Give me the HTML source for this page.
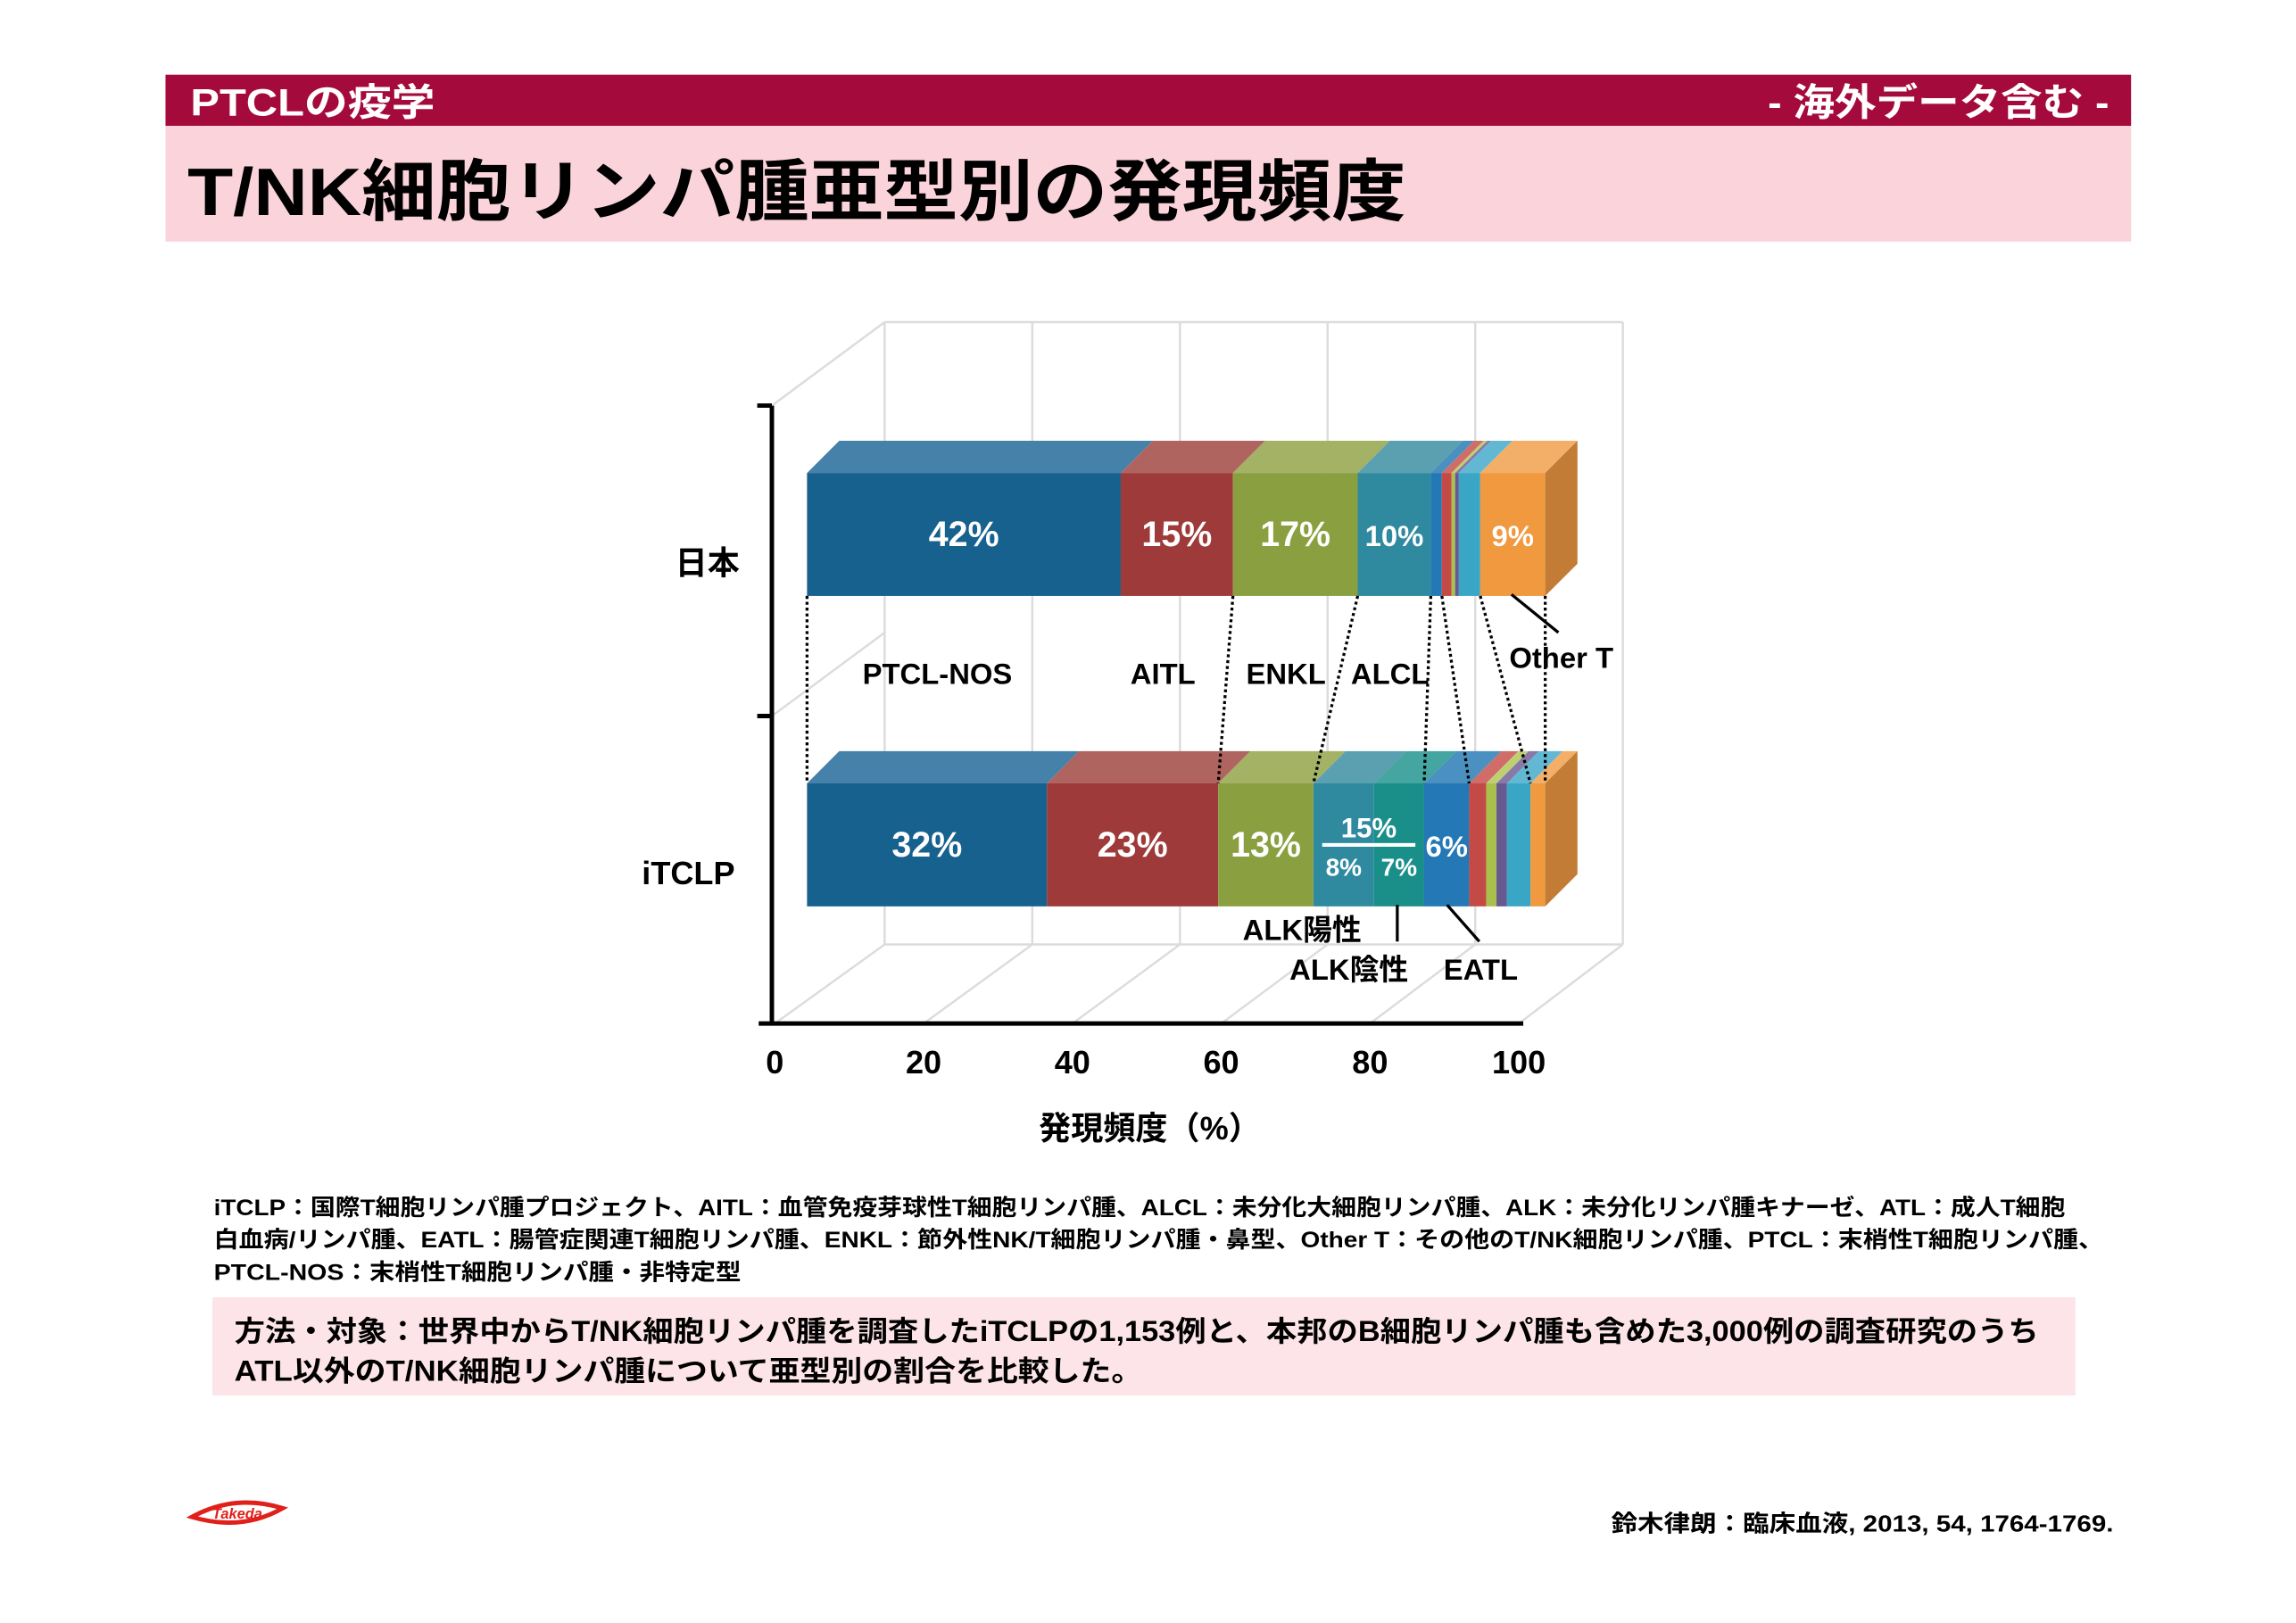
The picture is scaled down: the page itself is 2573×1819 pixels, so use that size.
<!DOCTYPE html>
<html><head><meta charset="utf-8">
<style>
html,body{margin:0;padding:0;background:#fff;}
svg{display:block;}
text{font-family:"Liberation Sans","Noto Sans CJK JP",sans-serif;font-weight:bold;}
</style></head>
<body>
<svg id="s" width="2573" height="1819" viewBox="0 0 1567.6 1108.4" preserveAspectRatio="none" xmlns="http://www.w3.org/2000/svg">
<rect x="0" y="0" width="1570" height="1110" fill="#fff"/>
<rect x="113" y="51" width="1342" height="35" fill="#A50A3C"/>
<rect x="113" y="86" width="1342" height="79" fill="#FAD4DA"/>
<text x="130" y="79" font-size="26" fill="#fff" textLength="167" lengthAdjust="spacingAndGlyphs">PTCLの疫学</text>
<text x="1207" y="79" font-size="26" fill="#fff" textLength="233" lengthAdjust="spacingAndGlyphs">- 海外データ含む -</text>
<text x="128" y="147" font-size="46" fill="#000" textLength="832" lengthAdjust="spacingAndGlyphs">T/NK細胞リンパ腫亜型別の発現頻度</text>

<g id="grid"></g>
<g id="bars"></g>
<g id="conn"></g>
<g id="axes"></g>
<g id="labels"></g>

<text x="785" y="778" font-size="22" text-anchor="middle">発現頻度（%）</text>
<text x="483" y="392" font-size="22" text-anchor="middle">日本</text>
<text x="470" y="604" font-size="22" text-anchor="middle">iTCLP</text>

<text x="640" y="467" font-size="20" text-anchor="middle">PTCL-NOS</text>
<text x="794" y="467" font-size="20" text-anchor="middle">AITL</text>
<text x="878" y="467" font-size="20" text-anchor="middle">ENKL</text>
<text x="949" y="467" font-size="20" text-anchor="middle">ALCL</text>
<text x="1066" y="456" font-size="20" text-anchor="middle">Other T</text>
<line x1="1032" y1="406" x2="1064" y2="432" stroke="#000" stroke-width="2"/>
<text x="889" y="642" font-size="20" text-anchor="middle">ALK陽性</text>
<text x="921" y="669" font-size="20" text-anchor="middle">ALK陰性</text>
<text x="1011" y="669" font-size="20" text-anchor="middle">EATL</text>
<line x1="954" y1="618" x2="954" y2="643" stroke="#000" stroke-width="2"/>
<line x1="988" y1="618" x2="1010" y2="643" stroke="#000" stroke-width="2"/>

<g font-size="15.5">
<text x="146" y="830" textLength="1264" lengthAdjust="spacingAndGlyphs">iTCLP：国際T細胞リンパ腫プロジェクト、AITL：血管免疫芽球性T細胞リンパ腫、ALCL：未分化大細胞リンパ腫、ALK：未分化リンパ腫キナーゼ、ATL：成人T細胞</text>
<text x="146" y="852" textLength="1290" lengthAdjust="spacingAndGlyphs">白血病/リンパ腫、EATL：腸管症関連T細胞リンパ腫、ENKL：節外性NK/T細胞リンパ腫・鼻型、Other T：その他のT/NK細胞リンパ腫、PTCL：末梢性T細胞リンパ腫、</text>
<text x="146" y="874" textLength="360" lengthAdjust="spacingAndGlyphs">PTCL-NOS：末梢性T細胞リンパ腫・非特定型</text>
</g>
<rect x="145" y="886" width="1272" height="67" fill="#FCE4E8"/>
<text x="160" y="916" font-size="19.5" textLength="1232" lengthAdjust="spacingAndGlyphs">方法・対象：世界中からT/NK細胞リンパ腫を調査したiTCLPの1,153例と、本邦のB細胞リンパ腫も含めた3,000例の調査研究のうち</text>
<text x="160" y="943" font-size="19.5" textLength="620" lengthAdjust="spacingAndGlyphs">ATL以外のT/NK細胞リンパ腫について亜型別の割合を比較した。</text>
<text x="1100" y="1046" font-size="16" textLength="343" lengthAdjust="spacingAndGlyphs">鈴木律朗：臨床血液, 2013, 54, 1764-1769.</text>
<g>
<path d="M131 1036 Q160 1020 193 1030 Q165 1046 131 1036 Z" fill="none" stroke="#E0201B" stroke-width="3"/>
<text x="162" y="1037" font-size="10" fill="#E0201B" text-anchor="middle" font-style="italic">Takeda</text>
</g>
</svg>
<script>
const categories = ['日本', 'iTCLP'];
const subtypes = ['PTCL-NOS','AITL','ENKL','ALK+','ALK-','EATL','other1','other2','other3','other4','OtherT'];
const japanValues = [42.5, 15.2, 16.9, 9.9, 0, 1.5, 1.3, 0.5, 0.5, 2.9, 8.8];
const itclpValues = [32.5, 23.2, 12.9, 8.2, 6.8, 6.1, 2.3, 1.4, 1.4, 3.2, 2.0];
const japanLabels = ['42%','15%','17%','10%','','','','','','','9%'];
const itclpLabels = ['32%','23%','13%','8%','7%','6%','','','','',''];
const xTicks = [0, 20, 40, 60, 80, 100];
const groupEnds = [0, 1, 2, 4, 5, 9, 10];

const NS='http://www.w3.org/2000/svg';
const front=['#17618F','#9E3B3A','#8AA040','#2F8AA0','#1A8F8A','#2478B5','#C44B45','#A9C04C','#665A90','#3AA6C6','#F0993F'];
const top_=['#4581A8','#B06460','#A3B265','#5AA0B0','#45A5A0','#4A90C0','#D06D68','#BFCF74','#8779A8','#62B8D3','#F3AE68'];
const D=22;
function bx(v){return 551+v*5.04;}
function ax(v){return 529+v*5.08;}
function mk(tag,attrs,parent){const e=document.createElementNS(NS,tag);for(const k in attrs)e.setAttribute(k,attrs[k]);parent.appendChild(e);return e;}
const grid=document.getElementById('grid');
xTicks.forEach((t,i)=>{
  const xb=604+t*5.04, xf=ax(t);
  const l=mk('line',{x1:xb,y1:220,x2:xb,y2:645,stroke:'#DCDCDC','stroke-width':1.5},grid);
  
  
  const f=mk('line',{x1:xf,y1:699,x2:xb,y2:645,stroke:'#DCDCDC','stroke-width':1.5},grid);
  
  
});
[[604,220,1108,220],[604,645,1108,645],[527,277,604,220],[527,489,604,432]].forEach(c=>{
  const l=mk('line',{x1:c[0],y1:c[1],x2:c[2],y2:c[3],stroke:'#DCDCDC','stroke-width':1.5},grid);
  
  
});
const bars=document.getElementById('bars');
const rows=[{vals:japanValues,labels:japanLabels,y0:323,y1:407,name:'japan'},{vals:itclpValues,labels:itclpLabels,y0:535,y1:619,name:'itclp'}];
const cums=[];
rows.forEach(r=>{
  let c=0;const cum=[0];
  r.vals.forEach((v,i)=>{
    const x0=bx(c),x1=bx(c+v);c+=v;cum.push(c);
    if(v<=0)return;
    const fr=mk('rect',{x:x0,y:r.y0,width:x1-x0,height:r.y1-r.y0,fill:front[i]},bars);
    
    
    const tp=mk('polygon',{points:`${x0},${r.y0} ${x1},${r.y0} ${x1+D},${r.y0-D} ${x0+D},${r.y0-D}`,fill:top_[i]},bars);
    
    
  });
  const xe=bx(c);
  const sd=mk('polygon',{points:`${xe},${r.y0} ${xe+D},${r.y0-D} ${xe+D},${r.y1-D} ${xe},${r.y1}`,fill:'#C27C35'},bars);
  
  
  cums.push(cum);
});
const lg=document.getElementById('labels');
rows.forEach((r,ri)=>{
  r.labels.forEach((lab,i)=>{
    if(!lab)return;
    const cx=(bx(cums[ri][i])+bx(cums[ri][i+1]))/2;
    let y=(r.y0+r.y1)/2+8, fs=(r.vals[i]<11?20:24);
    if(ri===1&&(i===3||i===4)){y=598;fs=17;}
    const t=mk('text',{x:cx,y:y,'font-size':fs,fill:'#fff','text-anchor':'middle'},lg);
    t.textContent=lab;
    
    
  });
});
{
  const a=bx(cums[1][3]),b=bx(cums[1][5]);
  const t=mk('text',{x:(a+b)/2,y:572,'font-size':19,fill:'#fff','text-anchor':'middle'},lg);
  t.textContent=Math.round(itclpValues[3]+itclpValues[4])+'%';
  
  
  const l=mk('line',{x1:a+6,y1:577,x2:b-6,y2:577,stroke:'#fff','stroke-width':2.5},lg);
  
  
}
const cg=document.getElementById('conn');
groupEnds.forEach(g=>{
  const l=mk('line',{x1:bx(cums[0][g===0?0:g+1]),y1:407,x2:bx(cums[1][g===0?0:g+1]),y2:535,stroke:'#000','stroke-width':2,'stroke-dasharray':'2,2'},cg);
  
  
});
const axg=document.getElementById('axes');
const yl=mk('line',{x1:527,y1:277,x2:527,y2:699,stroke:'#000','stroke-width':3},axg);

const xl=mk('line',{x1:518,y1:699,x2:1040,y2:699,stroke:'#000','stroke-width':3},axg);

[277,489].forEach(y=>{
  const t=mk('line',{x1:517,y1:y,x2:527,y2:y,stroke:'#000','stroke-width':3},axg);
  
});
xTicks.forEach(t=>{
  const e=mk('text',{x:ax(t),y:733,'font-size':22,'text-anchor':'middle'},axg);
  e.textContent=t;
  
  
});
</script>
</body></html>
